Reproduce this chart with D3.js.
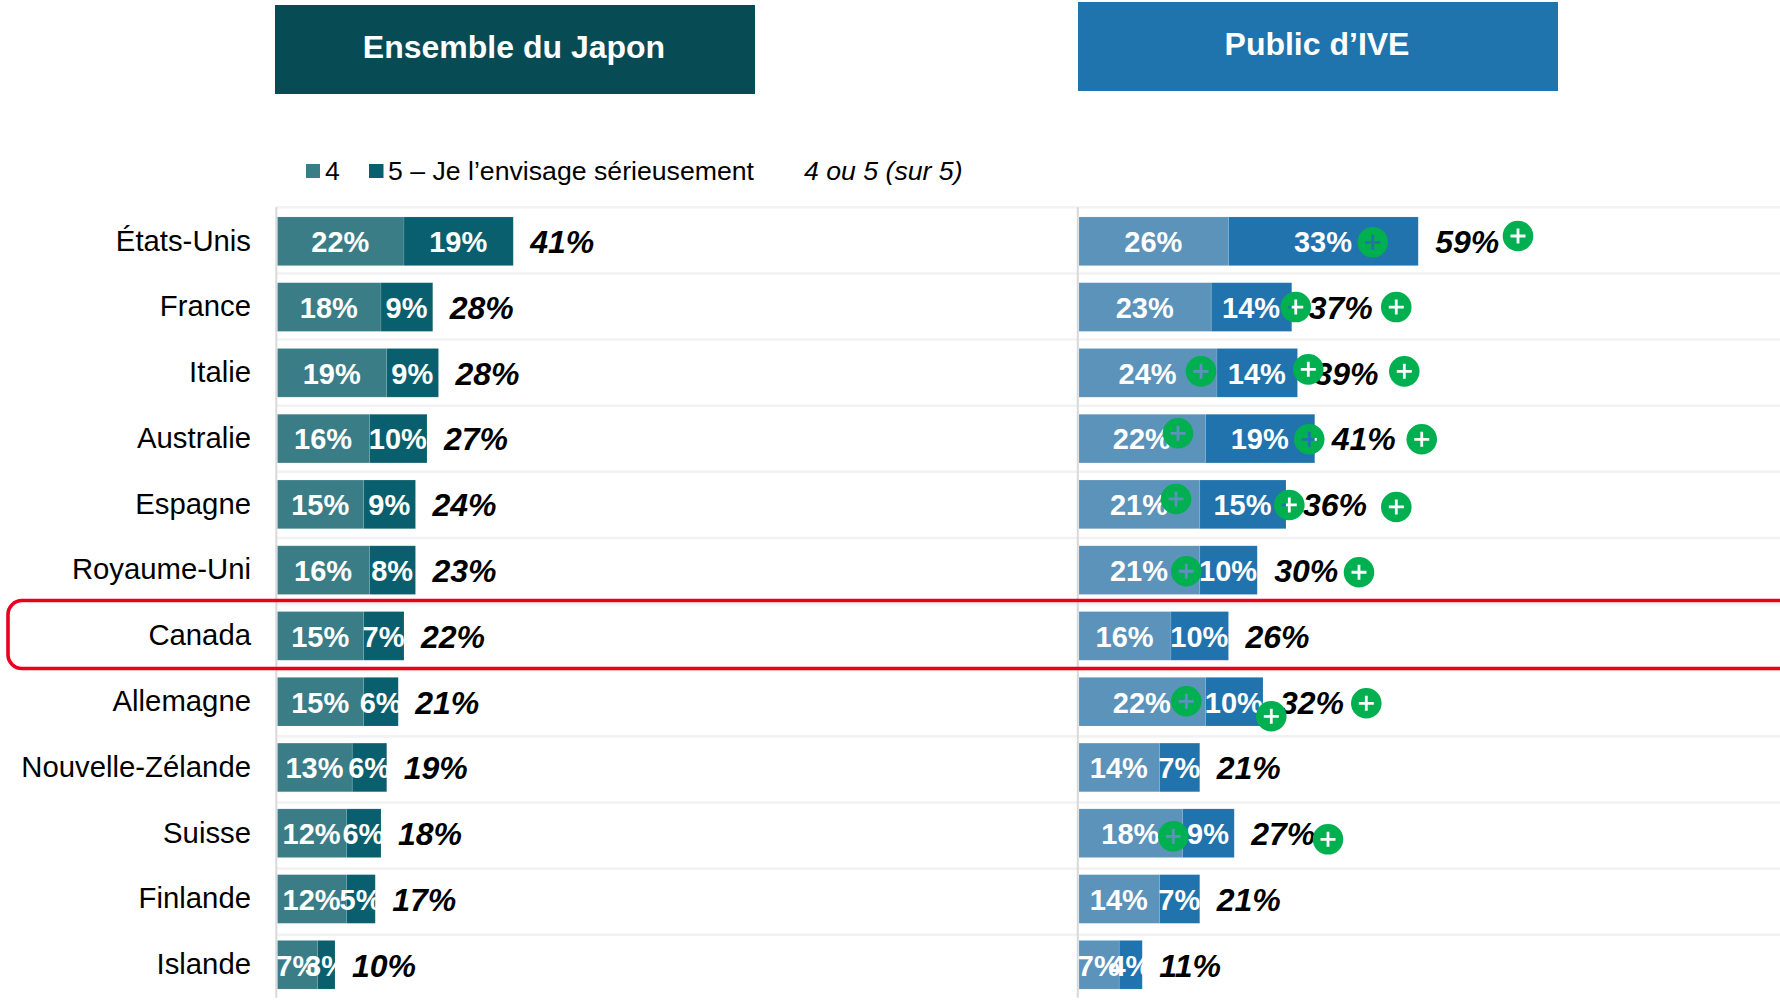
<!DOCTYPE html>
<html lang="fr"><head><meta charset="utf-8">
<style>html,body{margin:0;background:#fff}svg{display:block}text{font-family:"Liberation Sans",Arial,sans-serif}</style>
<script src="https://cdn.jsdelivr.net/npm/d3@7"></script></head><body>
<svg id="c" width="1780" height="1000"></svg>
<script>
const countries=["États-Unis","France","Italie","Australie","Espagne","Royaume-Uni","Canada","Allemagne","Nouvelle-Zélande","Suisse","Finlande","Islande"];
const japon4=[22,18,19,16,15,16,15,15,13,12,12,7];
const japon5=[19,9,9,10,9,8,7,6,6,6,5,3];
const japonTotal=[41,28,28,27,24,23,22,21,19,18,17,10];
const ive4=[26,23,24,22,21,21,16,22,14,18,14,7];
const ive5=[33,14,14,19,15,10,10,10,7,9,7,4];
const iveTotal=[59,37,39,41,36,30,26,32,21,27,21,11];
// Significance flags: country lists per anchor in the IVE panel
const sig4=["Italie","Australie","Espagne","Royaume-Uni","Allemagne","Suisse"];
const sig5=["États-Unis","France","Italie","Australie","Espagne","Allemagne"];
const sigTotal=["États-Unis","France","Italie","Australie","Espagne","Royaume-Uni","Allemagne","Suisse"];
const legendLabels=["4","5 – Je l’envisage sérieusement","4 ou 5 (sur 5)"];
const panelTitles=["Ensemble du Japon","Public d’IVE"];

// layout / style (separate from data)
const W=1780,H=1000;
const rowTop=208.4,rowStep=65.77,rowBottom=rowTop+rowStep*countries.length;
const gridTop=207.3,gridStep=66.13;
const y=d3.scaleBand().domain(countries).range([rowTop,rowBottom]).paddingInner(.26).paddingOuter(.13);
const unit=5.75;
const xL=d3.scaleLinear().domain([0,100]).range([277.5,277.5+unit*100]);
const xR=d3.scaleLinear().domain([0,100]).range([1079,1079+unit*100]);
const col={l4:"#3b7d86",l5:"#0a5f6e",r4:"#5c93ba",r5:"#2073ac",lt:"#074b55",rt:"#1f74ad",grid:"#f2f2f2",axis:"#d9d9d9",red:"#e8001f",green:"#00b050"};
// marker nudges in px from anchor (segment end) and row centre
const nudge4={"Italie":[-16,-1.5],"Australie":[-27.5,-5.3],"Espagne":[-23.75,-5.4],"Royaume-Uni":[-13.5,1.1],"Allemagne":[-19.2,-.4],"Suisse":[-9.2,3.1]};
const nudge5={"États-Unis":[-45.5,1],"France":[4,0],"Italie":[10.8,-3.5],"Australie":[-5.5,.7],"Espagne":[3.3,.6],"Allemagne":[8.3,14.6]};
const nudgeT={"États-Unis":[99.75,-5.3],"France":[104.5,0],"Italie":[106.8,-1.5],"Australie":[107,.7],"Espagne":[110.3,2.6],"Royaume-Uni":[101.75,2.1],"Allemagne":[103.3,1.6],"Suisse":[93.75,6.1]};

const svg=d3.select("#c");
// grid
svg.append("g").selectAll("line").data(d3.range(12)).join("line")
 .attr("x1",xL(0)-1).attr("x2",W).attr("y1",i=>gridTop+i*gridStep).attr("y2",i=>gridTop+i*gridStep)
 .attr("stroke",col.grid).attr("stroke-width",2.6);
// panel axes
[xL,xR].forEach(x=>svg.append("line").attr("x1",x(0)-1.2).attr("x2",x(0)-1.2).attr("y1",gridTop).attr("y2",rowBottom)
 .attr("stroke",col.axis).attr("stroke-width",2));
// titles
const tb=[{x:275,y:5,w:480,h:89,c:col.lt,t:panelTitles[0],ty:47},{x:1078,y:2,w:480,h:89,c:col.rt,t:panelTitles[1],ty:44}];
tb.forEach(b=>{svg.append("rect").attr("x",b.x).attr("y",b.y).attr("width",b.w).attr("height",b.h).attr("fill",b.c);
 svg.append("text").attr("x",b.x+b.w/2-1).attr("y",b.ty).attr("dy",".35em").attr("text-anchor","middle").attr("fill","#fff").attr("font-weight","bold").attr("font-size",32).text(b.t);});
// legend
const lg=svg.append("g");
lg.append("rect").attr("x",306).attr("y",164).attr("width",14).attr("height",14).attr("fill",col.l4);
lg.append("text").attr("x",325).attr("y",179.5).attr("font-size",26.67).text(legendLabels[0]);
lg.append("rect").attr("x",369).attr("y",164).attr("width",14.5).attr("height",14).attr("fill",col.l5);
lg.append("text").attr("x",388).attr("y",179.5).attr("font-size",26.67).text(legendLabels[1]);
lg.append("text").attr("x",804).attr("y",179.5).attr("font-size",26.67).attr("font-style","italic").text(legendLabels[2]);
// category axis
const ax=svg.append("g").attr("transform","translate(251,0.5)").call(d3.axisLeft(y).tickSize(0).tickPadding(0));
ax.select(".domain").remove();
ax.selectAll("text").attr("font-size",29.3).attr("fill","#000").style("font-family",'"Liberation Sans",Arial,sans-serif').attr("dy",".3em");

function panel(x,a,b,t,c4,c5){
 const g=svg.append("g");
 const rows=countries.map((c,i)=>({c,a:a[i],b:b[i],t:t[i]}));
 g.selectAll("rect.a").data(rows).join("rect").attr("class","a").attr("x",x(0)).attr("y",d=>y(d.c)).attr("width",d=>x(d.a)-x(0)).attr("height",y.bandwidth()).attr("fill",c4).attr("stroke","#fff").attr("stroke-opacity",.15).attr("stroke-width",.8);
 g.selectAll("rect.b").data(rows).join("rect").attr("class","b").attr("x",d=>x(d.a)).attr("y",d=>y(d.c)).attr("width",d=>x(d.b)-x(0)).attr("height",y.bandwidth()).attr("fill",c5).attr("stroke","#fff").attr("stroke-opacity",.15).attr("stroke-width",.8);
 const lab=(cls,fx,f)=>g.selectAll("text."+cls).data(rows).join("text").attr("class",cls).attr("x",fx).attr("y",d=>y(d.c)+y.bandwidth()/2+.7).attr("dy",".35em").text(f);
 lab("la",d=>(x(0)+x(d.a))/2-.4,d=>d.a+"%").attr("text-anchor","middle").attr("fill","#fff").attr("font-weight","bold").attr("font-size",29);
 lab("lb",d=>x(d.a+d.b/2)-.4,d=>d.b+"%").attr("text-anchor","middle").attr("fill","#fff").attr("font-weight","bold").attr("font-size",29);
 lab("lt",d=>x(d.a+d.b)+17,d=>d.t+"%").attr("fill","#000").attr("font-weight","bold").attr("font-style","italic").attr("font-size",32);
}
panel(xL,japon4,japon5,japonTotal,col.l4,col.l5);
panel(xR,ive4,ive5,iveTotal,col.r4,col.r5);
// highlight
svg.append("rect").attr("x",8).attr("y",y("Canada")-11).attr("width",W+40).attr("height",68).attr("rx",14).attr("fill","none").attr("stroke",col.red).attr("stroke-width",3.6);
// markers (plus is a hole through the disc)
const plus="M-15.3,0A15.3,15.3 0 1,0 15.3,0A15.3,15.3 0 1,0 -15.3,0Z M-1.4,-7.5V-1.4H-7.5V1.4H-1.4V7.5H1.4V1.4H7.5V-1.4H1.4V-7.5Z";
function markers(list,anchor,n){
 svg.append("g").selectAll("path").data(list).join("path")
  .attr("d",plus).attr("fill",col.green).attr("fill-rule","evenodd")
  .attr("transform",c=>{const i=countries.indexOf(c);const d=n[c];return `translate(${anchor(i)+d[0]},${y(c)+y.bandwidth()/2+d[1]})`;});
}
markers(sig4,i=>xR(ive4[i]),nudge4);
markers(sig5,i=>xR(ive4[i]+ive5[i]),nudge5);
markers(sigTotal,i=>xR(ive4[i]+ive5[i]),nudgeT);
</script></body></html>
